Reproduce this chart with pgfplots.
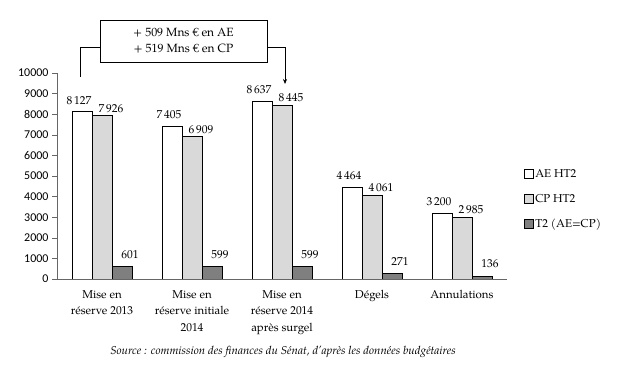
\documentclass[border=0pt]{standalone}
\usepackage{pgfplots}
\pgfplotsset{compat=1.18}
\usetikzlibrary{arrows.meta}
\usepackage{fontspec}
\setmainfont{TeX Gyre Pagella}
\newfontfamily\calibri{Carlito}
\definecolor{cpgray}{HTML}{D9D9D9}
\definecolor{tgray}{HTML}{7F7F7F}
\begin{document}
\begin{tikzpicture}
\path[use as bounding box] (0bp,0bp) rectangle (628bp,380bp);
\begin{axis}[
  at={(57bp,101bp)}, anchor=south west,
  scale only axis, width=450bp, height=206bp,
  xmin=-0.5, xmax=4.5, ymin=0, ymax=10000,
  scaled y ticks=false,
  ybar=0pt, bar width=20bp,
  axis x line*=bottom, axis y line*=left,
  axis line style={gray!80!black, line width=0.6pt},
  xtick={0,1,2,3,4},
  extra x ticks={-0.5,0.5,1.5,2.5,3.5,4.5},
  extra x tick labels={},
  extra x tick style={major tick length=5bp, tick style={gray!80!black}, tick align=outside},
  x tick style={draw=none},
  xticklabels={{Mise en\\réserve 2013},{Mise en\\réserve initiale\\2014},{Mise en\\réserve 2014\\après surgel},{Dégels},{Annulations}},
  xticklabel style={align=center, font=\fontsize{11.5}{16.5}\selectfont, yshift=-3bp},
  ytick={0,1000,...,10000},
  y tick style={gray!80!black}, tick align=outside, major tick length=5bp,
  yticklabel style={font=\calibri\fontsize{12}{13}\selectfont},
  /pgf/number format/assume math mode=true,
  /pgf/number format/1000 sep={},
  point meta=explicit symbolic,
  nodes near coords,
  nodes near coords style={font=\fontsize{11.5}{13}\selectfont, inner sep=2bp},
  legend style={at={(1.03,0.55)}, anchor=north west, draw=none, fill=none,
    font=\fontsize{11.5}{13}\selectfont, row sep=11bp, cells={anchor=west}},
  legend image code/.code={\draw[#1,line width=0.6pt] (0bp,-4bp) rectangle (9bp,5bp);},
]
\addplot[fill=white, draw=black, line width=0.6pt, nodes near coords style={xshift=-3bp, yshift=5bp}] coordinates {(0,8127)[8\,127] (1,7405)[7\,405] (2,8637)[8\,637] (3,4464)[4\,464] (4,3200)[3\,200]};
\addplot[fill=cpgray, draw=black, line width=0.6pt, nodes near coords style={xshift=9bp, yshift=1bp}] coordinates {(0,7926)[7\,926] (1,6909)[6\,909] (2,8445)[8\,445] (3,4061)[4\,061] (4,2985)[2\,985]};
\addplot[fill=tgray, draw=black, line width=0.6pt, nodes near coords style={xshift=8bp, yshift=6bp}] coordinates {(0,601)[601] (1,599)[599] (2,599)[599] (3,271)[271] (4,136)[136]};
\legend{AE HT2,CP HT2,T2 (AE=CP)}
\end{axis}
\draw[line width=0.6pt] (80bp,303bp) -- (80bp,333bp) -- (100bp,333bp);
\draw[line width=0.6pt] (100bp,318bp) rectangle (267bp,360bp);
\node[font=\fontsize{12}{13}\selectfont, align=center] at (183.5bp,339bp) {+ 509 Mns € en AE\\[3bp]+ 519 Mns € en CP};
\draw[line width=0.6pt, -{Stealth[length=5bp,width=4bp]}] (267bp,333bp) -- (285bp,333bp) -- (285bp,296bp);
\node[font=\itshape\fontsize{11.5}{13}\selectfont] at (283bp,28bp) {Source : commission des finances du Sénat, d'après les données budgétaires};
\end{tikzpicture}
\end{document}
